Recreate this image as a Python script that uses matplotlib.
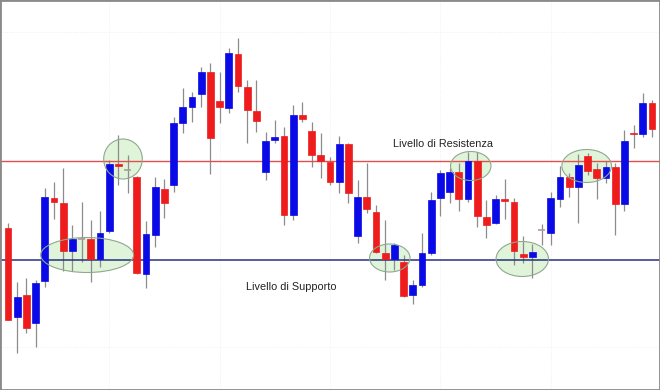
"""Candlestick chart with support / resistance levels (Livello di Supporto / Resistenza)."""
import matplotlib.pyplot as plt
from matplotlib.patches import Ellipse, Rectangle

# price (arbitrary units)
opens = [162, 73, 95, 67, 109, 192, 187, 139, 151, 151, 131, 159, 226, 220, 213, 116, 155, 201,
         205, 267, 283, 296, 318, 289, 282, 336, 303, 279, 218, 250, 254, 175, 275, 259, 235, 228,
         208, 246, 154, 193, 178, 137, 131, 128, 95, 105, 137, 192, 198, 218, 191, 229, 173, 167,
         191, 188, 136, 133, 160, 157, 191, 213, 203, 234, 221, 212, 223, 186, 257, 256, 287]
closes = [70, 93, 62, 107, 193, 188, 139, 151, 151, 131, 157, 226, 224, 220, 117, 156, 203, 187,
          267, 283, 293, 318, 252, 283, 337, 304, 280, 269, 249, 253, 175, 275, 271, 235, 229, 208,
          246, 197, 193, 181, 138, 131, 145, 94, 105, 137, 190, 217, 218, 191, 229, 174, 165, 191,
          189, 139, 133, 138, 160, 192, 213, 203, 225, 219, 212, 223, 186, 249, 256, 287, 261]
highs = [167, 108, 112, 110, 202, 208, 222, 165, 188, 170, 179, 230, 255, 235, 214, 169, 213, 211,
         273, 302, 298, 323, 327, 318, 342, 352, 310, 310, 258, 270, 263, 285, 288, 268, 257, 233,
         254, 247, 210, 227, 185, 170, 147, 135, 110, 157, 198, 220, 222, 227, 238, 238, 190, 195,
         211, 192, 154, 146, 166, 198, 224, 217, 236, 237, 227, 229, 227, 260, 265, 297, 290]
lows = [70, 37, 57, 43, 103, 171, 119, 119, 128, 108, 123, 157, 205, 197, 116, 102, 143, 172,
        198, 257, 268, 283, 216, 267, 277, 298, 247, 258, 210, 247, 165, 170, 268, 223, 212, 205,
        197, 187, 147, 177, 137, 110, 120, 93, 86, 103, 135, 174, 187, 179, 188, 163, 152, 166,
        171, 125, 127, 112, 145, 145, 183, 193, 167, 215, 191, 207, 155, 179, 242, 253, 253]

support = 130
resistance = 229

# highlighted touches of the levels: (candle index, price, width in candles, height in price)
touches = [(8.6, 135, 10.1, 35), (12.5, 231, 4.2, 40), (41.5, 132, 4.4, 28),
           (50.3, 224, 4.4, 29), (55.9, 131, 5.7, 35), (62.9, 224, 5.4, 33)]

fig = plt.figure(figsize=(6.6, 3.9), dpi=100)
ax = fig.add_axes([0, 0, 1, 1])

for i, (o, c, h, l) in enumerate(zip(opens, closes, highs, lows)):
    if c > o:
        col = '#0a0ae6'
    elif c < o:
        col = '#ee1c1c'
    else:
        col = '#b09a9a'
    ax.vlines(i, l, h, color='#8c8c8c', linewidth=0.9, zorder=2)
    if c == o:
        ax.hlines(o, i - 0.38, i + 0.38, color=col, linewidth=1.2, zorder=3)
    else:
        ax.add_patch(Rectangle((i - 0.38, min(o, c)), 0.76, abs(c - o),
                               facecolor=col, edgecolor=col, linewidth=0.5, zorder=3))

for x, y, w, h in touches:
    ax.add_patch(Ellipse((x, y), w, h, facecolor='#e0f4da', edgecolor='none', zorder=1))
    ax.add_patch(Ellipse((x, y), w, h, facecolor='none', edgecolor='#8fa88f',
                         linewidth=0.8, zorder=4))

ax.axhline(resistance, color='#e05050', linewidth=1.0, zorder=2.5)
ax.axhline(support, color='#28307a', linewidth=1.1, zorder=2.5)

ax.text(41.8, 241, 'Livello di Resistenza', fontsize=7.8, family='Liberation Sans',
        color='#222222', va='bottom', ha='left')
ax.text(25.9, 103, 'Livello di Supporto', fontsize=7.8, family='Liberation Sans',
        color='#222222', va='center', ha='left')

ax.set_xlim(-0.87, 70.87)
ax.set_ylim(0, 390)
ax.set_xticks([11, 23, 35, 47, 59])
ax.set_yticks([43, 358])
ax.grid(True, color='#ececec', linestyle=':', linewidth=0.6, zorder=0)
ax.tick_params(length=0, labelbottom=False, labelleft=False)
for s in ax.spines.values():
    s.set_color('#8a8a8a')
    s.set_linewidth(2)

plt.savefig('out.png', dpi=100)
